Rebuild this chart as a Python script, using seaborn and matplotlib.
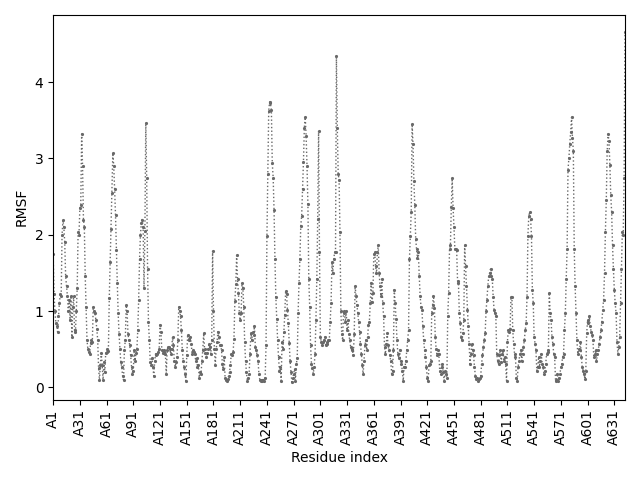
import matplotlib
matplotlib.use("Agg")
import matplotlib.pyplot as plt
import seaborn as sns
import numpy as np
import pandas as pd

rmsf = [
    1.75, 1.22, 1.0, 0.85, 0.8, 0.73, 0.93, 1.1, 1.22, 1.2,
    2.0, 2.19, 2.1, 1.9, 1.46, 1.33, 1.2, 1.0, 1.15, 0.88,
    1.2, 0.66, 1.05, 1.2, 0.75, 0.72, 1.0, 1.3, 2.03, 2.0,
    2.35, 2.39, 3.32, 2.9, 2.2, 2.1, 1.46, 1.06, 0.62, 0.5,
    0.46, 0.44, 0.58, 0.62, 0.6, 1.06, 1.0, 0.97, 0.88, 0.77,
    0.62, 0.25, 0.1, 0.3, 0.45, 0.3, 0.1, 0.33, 0.2, 0.45,
    0.46, 0.5, 0.48, 1.17, 1.64, 2.08, 2.55, 3.07, 2.9, 2.6,
    2.26, 1.8, 1.37, 0.97, 0.7, 0.5, 0.33, 0.27, 0.15, 0.1,
    0.49, 0.62, 1.08, 1.0, 0.7, 0.62, 0.55, 0.42, 0.27, 0.18,
    0.22, 0.49, 0.35, 0.45, 0.5, 0.75, 1.15, 1.68, 2.0, 2.15,
    2.2, 2.1, 1.3, 2.05, 3.47, 2.75, 1.55, 0.86, 0.62, 0.33,
    0.3, 0.38, 0.27, 0.15, 0.35, 0.44, 0.42, 0.44, 0.46, 0.5,
    0.82, 0.73, 0.49, 0.45, 0.47, 0.49, 0.44, 0.18, 0.49, 0.53,
    0.53, 0.5, 0.44, 0.5, 0.66, 0.55, 0.35, 0.27, 0.33, 0.4,
    0.62, 1.06, 1.0, 0.93, 0.75, 0.49, 0.35, 0.27, 0.18, 0.09,
    0.42, 0.69, 0.62, 0.64, 0.66, 0.57, 0.44, 0.49, 0.47, 0.44,
    0.35, 0.38, 0.27, 0.29, 0.13, 0.2, 0.18, 0.35, 0.49, 0.71,
    0.5, 0.45, 0.4, 0.45, 0.5, 0.57, 0.53, 0.44, 0.62, 1.79,
    1.0, 0.5, 0.3, 0.5, 0.6, 0.73, 0.66, 0.55, 0.55, 0.49,
    0.31, 0.24, 0.4, 0.13, 0.1, 0.08, 0.11, 0.15, 0.2, 0.3,
    0.44, 0.42, 0.46, 0.64, 1.13, 1.35, 1.73, 1.42, 1.24, 0.97,
    0.88, 0.97, 1.37, 1.3, 1.06, 0.6, 0.35, 0.2, 0.09, 0.13,
    0.18, 0.44, 0.71, 0.62, 0.73, 0.69, 0.8, 0.53, 0.49, 0.42,
    0.35, 0.18, 0.1, 0.09, 0.1, 0.08, 0.1, 0.09, 0.12, 0.55,
    1.98, 2.79, 3.62, 3.74, 3.72, 3.63, 2.94, 2.75, 2.32, 1.68,
    1.19, 0.9, 0.62, 0.4, 0.22, 0.27, 0.09, 0.6, 0.5, 0.73,
    0.95, 1.26, 1.22, 1.02, 0.84, 0.58, 0.35, 0.2, 0.07, 0.13,
    0.18, 0.24, 0.09, 0.31, 0.38, 0.97, 1.37, 1.68, 2.12, 2.25,
    2.6, 2.95, 3.4, 3.54, 3.3, 2.9, 2.4, 1.42, 1.06, 0.55,
    0.31, 0.25, 0.18, 0.27, 0.44, 0.88, 1.42, 2.21, 3.36, 1.77,
    0.66, 0.6, 0.55, 0.6, 0.62, 0.66, 0.55, 0.57, 0.6, 0.62,
    0.62, 0.86, 1.1, 1.64, 1.5, 1.68, 1.77, 1.78, 4.34, 3.4,
    2.8, 2.72, 2.04, 1.0, 0.7, 0.62, 1.0, 0.97, 0.86, 1.0,
    0.75, 0.88, 0.7, 0.62, 0.53, 0.5, 0.49, 0.42, 0.7, 1.33,
    1.2, 1.08, 0.97, 0.86, 0.73, 0.57, 0.44, 0.3, 0.18, 0.35,
    0.55, 0.62, 0.49, 0.66, 0.82, 0.86, 1.1, 1.37, 1.12, 1.24,
    1.75, 1.77, 1.59, 1.5, 1.77, 1.86, 1.5, 1.33, 1.2, 1.42,
    1.1, 0.93, 0.53, 0.44, 0.57, 0.71, 0.55, 0.49, 0.42, 0.35,
    0.18, 0.22, 0.49, 1.28, 1.1, 0.9, 0.62, 0.44, 0.38, 0.49,
    0.35, 0.31, 0.22, 0.09, 0.27, 0.27, 0.35, 0.49, 0.62, 0.75,
    1.68, 1.99, 2.3, 3.45, 3.19, 2.7, 2.39, 1.95, 1.81, 1.7,
    1.77, 1.46, 1.2, 1.06, 1.02, 0.8, 0.62, 0.49, 0.4, 0.27,
    0.13, 0.09, 0.3, 0.31, 0.35, 0.97, 1.08, 1.2, 1.04, 0.66,
    0.5, 0.42, 0.49, 0.44, 0.22, 0.18, 0.31, 0.27, 0.2, 0.09,
    0.22, 0.18, 0.13, 0.93, 1.24, 1.81, 1.86, 2.37, 2.74, 2.35,
    2.1, 1.81, 1.81, 1.8, 1.4, 1.37, 0.97, 0.84, 0.66, 0.62,
    0.71, 0.88, 1.86, 1.59, 1.33, 1.02, 0.8, 0.57, 0.31, 0.44,
    0.57, 0.49, 0.42, 0.27, 0.15, 0.11, 0.13, 0.09, 0.11, 0.12,
    0.15, 0.31, 0.42, 0.53, 0.62, 0.71, 1.0, 1.15, 1.33, 1.46,
    1.5, 1.55, 1.46, 1.42, 1.19, 1.02, 0.97, 0.93, 0.44, 0.35,
    0.31, 0.42, 0.49, 0.33, 0.44, 0.49, 0.35, 0.4, 0.31, 0.09,
    0.6, 0.75, 0.73, 0.77, 1.19, 1.19, 0.75, 0.57, 0.44, 0.4,
    0.13, 0.09, 0.27, 0.35, 0.44, 0.49, 0.35, 0.44, 0.53, 0.62,
    0.75, 0.84, 1.19, 1.99, 2.25, 2.3, 2.21, 1.99, 1.28, 1.1,
    0.66, 0.57, 0.49, 0.22, 0.27, 0.4, 0.27, 0.35, 0.44, 0.31,
    0.27, 0.18, 0.22, 0.31, 0.44, 0.46, 0.49, 1.24, 0.97, 0.88,
    0.66, 0.57, 0.44, 0.4, 0.1, 0.09, 0.18, 0.09, 0.13, 0.18,
    0.27, 0.31, 0.4, 0.44, 0.75, 0.97, 1.42, 1.81, 2.85, 3.0,
    3.19, 3.35, 3.54, 3.27, 3.1, 1.81, 1.33, 0.97, 0.62, 0.44,
    0.5, 0.49, 0.6, 0.4, 0.27, 0.22, 0.18, 0.11, 0.22, 0.71,
    0.88, 0.84, 0.93, 0.8, 0.73, 0.69, 0.62, 0.4, 0.44, 0.49,
    0.35, 0.44, 0.49, 0.57, 0.66, 0.75, 0.86, 1.02, 1.15, 1.5,
    2.04, 2.46, 3.1, 3.32, 3.23, 2.92, 2.52, 2.3, 1.86, 1.55,
    1.28, 1.1, 0.97, 0.6, 0.44, 0.53, 0.66, 1.1, 1.55, 2.04,
    2.0, 2.74, 4.65,
]

residue_index = list(range(len(rmsf)))
tick_positions = list(range(0, len(rmsf), 30))
tick_labels = ["A%d" % (p + 1) for p in tick_positions]

df = pd.DataFrame({"idx": residue_index, "rmsf": rmsf})

fig, ax = plt.subplots(figsize=(6.4, 4.8), dpi=100)
sns.lineplot(data=df, x="idx", y="rmsf", ax=ax, color="dimgray",
             linestyle=":", linewidth=1.0, marker=".", markersize=3,
             markeredgecolor="dimgray", markerfacecolor="dimgray")
ax.set_xlim(0, len(rmsf) - 1)
ax.set_xticks(tick_positions)
ax.set_xticklabels(tick_labels, rotation=90)
ax.set_xlabel("Residue index")
ax.set_ylabel("RMSF")
fig.tight_layout()
fig.savefig("out.png", dpi=100)
